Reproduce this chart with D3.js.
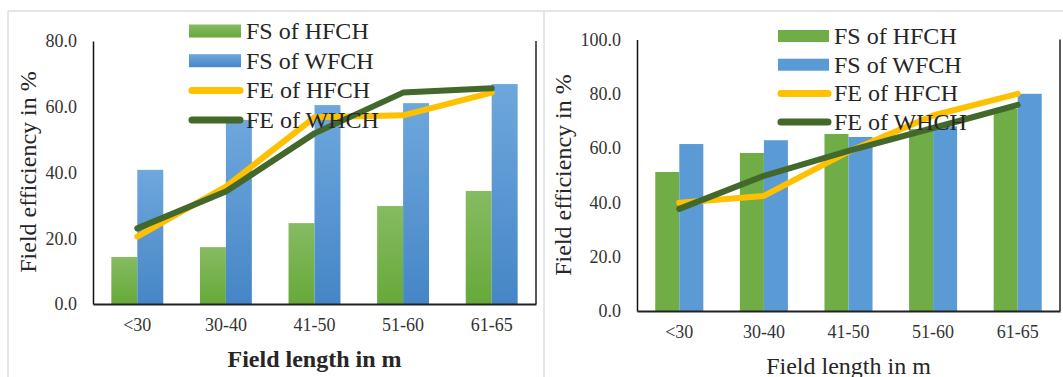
<!DOCTYPE html>
<html>
<head>
<meta charset="utf-8">
<script src="https://cdn.jsdelivr.net/npm/d3@7"></script>
<style>
  html, body { margin: 0; padding: 0; background: #fff; }
  svg { display: block; font-family: "Liberation Serif", "Times New Roman", serif; }
</style>
</head>
<body>
<svg id="chart" width="1063" height="377"></svg>
<script>
// Field length classes
const categories = ["<30", "30-40", "41-50", "51-60", "61-65"];

// Left chart: field speed (FS) and field efficiency (FE), %
const leftFsHFCH = [14.3, 17.3, 24.6, 29.8, 34.4];
const leftFsWFCH = [40.8, 56.0, 60.5, 61.1, 66.9];
const leftFeHFCH = [20.5, 35.7, 56.8, 57.4, 64.3];
const leftFeWHCH = [23.0, 34.2, 51.9, 64.3, 65.6];
const leftTicks = [0, 20, 40, 60, 80];

// Right chart
const rightFsHFCH = [51.2, 58.2, 65.2, 67.0, 74.5];
const rightFsWFCH = [61.5, 62.9, 64.1, 68.0, 80.0];
const rightFeHFCH = [39.9, 42.4, 58.7, 72.0, 80.0];
const rightFeWHCH = [37.6, 49.8, 59.0, 67.4, 75.9];
const rightTicks = [0, 20, 40, 60, 80, 100];

const legendLabels = ["FS of HFCH", "FS of WFCH", "FE of HFCH", "FE of WHCH"];

const svg = d3.select("#chart");
const defs = svg.append("defs");

function vGrad(id, top, bottom) {
  const g = defs.append("linearGradient").attr("id", id)
    .attr("x1", 0).attr("y1", 0).attr("x2", 0).attr("y2", 1);
  g.append("stop").attr("offset", "0%").attr("stop-color", top);
  g.append("stop").attr("offset", "100%").attr("stop-color", bottom);
}
vGrad("gGreen", "#86bb62", "#66a939");
vGrad("gBlue", "#6ea7dd", "#4686c6");

// panel frames
svg.append("line").attr("x1", 8).attr("x2", 1063).attr("y1", 11).attr("y2", 11)
  .attr("stroke", "#e3e6ea").attr("stroke-width", 2);
svg.append("line").attr("x1", 8).attr("x2", 8).attr("y1", 11).attr("y2", 377)
  .attr("stroke", "#e3e6ea").attr("stroke-width", 2);
svg.append("line").attr("x1", 544).attr("x2", 544).attr("y1", 11).attr("y2", 377)
  .attr("stroke", "#e3e6ea").attr("stroke-width", 2);

function drawPanel(cfg) {
  const g = svg.append("g");
  const y = d3.scaleLinear().domain(cfg.domain).range([cfg.bottom, cfg.top]);
  const x = d3.scaleBand().domain(categories).range([cfg.left, cfg.right]);
  const barW = x.step() * cfg.barFrac;
  const cx = c => x(c) + x.bandwidth() / 2;

  // bars
  const barSeries = [
    { vals: cfg.fsH, fill: cfg.greenFill, off: -barW },
    { vals: cfg.fsW, fill: cfg.blueFill, off: 0 }
  ];
  barSeries.forEach(s => {
    g.append("g").selectAll("rect").data(categories).join("rect")
      .attr("x", (c) => cx(c) + s.off)
      .attr("width", barW)
      .attr("y", (c, i) => y(s.vals[i]))
      .attr("height", (c, i) => y(0) - y(s.vals[i]))
      .attr("fill", s.fill);
  });

  // lines
  const line = d3.line().x((d, i) => cx(categories[i])).y(d => y(d));
  [[cfg.feH, "#ffc000"], [cfg.feW, "#43682b"]].forEach(([vals, col]) => {
    g.append("path").datum(vals).attr("d", line)
      .attr("fill", "none").attr("stroke", col).attr("stroke-width", 6)
      .attr("stroke-linejoin", "round").attr("stroke-linecap", "round");
  });

  // axes
  const yAxis = d3.axisLeft(y).tickValues(cfg.ticks).tickSize(0).tickPadding(16)
    .tickFormat(d3.format(".1f"));
  const ya = g.append("g").attr("transform", `translate(${cfg.left},0)`).call(yAxis);
  ya.select(".domain").attr("stroke", "#111").attr("stroke-width", 1.5);
  ya.selectAll("text").attr("font-size", 18).attr("fill", "#333")
    .attr("font-family", "Liberation Serif");

  const xAxis = d3.axisBottom(x).tickSize(0).tickPadding(14);
  const xa = g.append("g").attr("transform", `translate(0,${cfg.bottom})`).call(xAxis);
  xa.select(".domain").attr("stroke", "#222").attr("stroke-width", 2);
  xa.selectAll("text").attr("font-size", 18).attr("fill", "#333")
    .attr("font-family", "Liberation Serif");

  // plot right border
  g.append("line").attr("x1", cfg.right).attr("x2", cfg.right)
    .attr("y1", cfg.top).attr("y2", cfg.bottom)
    .attr("stroke", "#222").attr("stroke-width", 1.5);

  // titles
  g.append("text")
    .attr("transform", `translate(${cfg.yTitleX},${cfg.yTitleY}) rotate(-90)`)
    .attr("text-anchor", "middle").attr("dominant-baseline", "central")
    .attr("font-size", 24).attr("fill", "#262626")
    .text("Field efficiency in %");
  g.append("text")
    .attr("x", (cfg.left + cfg.right) / 2).attr("y", cfg.xTitleY)
    .attr("text-anchor", "middle").attr("font-size", 24)
    .attr("font-weight", cfg.xTitleBold ? "bold" : "normal").attr("fill", "#262626")
    .text("Field length in m");

  // legend
  const lg = g.append("g");
  legendLabels.forEach((lab, i) => {
    const cyy = cfg.legY + i * cfg.legStep;
    if (i < 2) {
      lg.append("rect").attr("x", cfg.legX).attr("y", cyy - cfg.swH / 2)
        .attr("width", cfg.legW).attr("height", cfg.swH)
        .attr("fill", i === 0 ? cfg.greenFill : cfg.blueFill);
    } else {
      lg.append("line").attr("x1", cfg.legX + 3).attr("x2", cfg.legX + cfg.legW - 1)
        .attr("y1", cyy).attr("y2", cyy)
        .attr("stroke", i === 2 ? "#ffc000" : "#43682b")
        .attr("stroke-width", 7).attr("stroke-linecap", "round");
    }
    lg.append("text").attr("x", cfg.legX + cfg.legW + 5).attr("y", cyy + 8)
      .attr("font-size", 24).attr("fill", "#262626").text(lab);
  });
}

drawPanel({
  domain: [0, 80], ticks: leftTicks,
  left: 93, right: 536, top: 41, bottom: 304, barFrac: 0.293,
  fsH: leftFsHFCH, fsW: leftFsWFCH, feH: leftFeHFCH, feW: leftFeWHCH,
  greenFill: "url(#gGreen)", blueFill: "url(#gBlue)",
  yTitleX: 28, yTitleY: 172, xTitleY: 367, xTitleBold: true,
  legX: 189, legW: 52, legY: 31, legStep: 29.7, swH: 13
});

drawPanel({
  domain: [0, 100], ticks: rightTicks,
  left: 637, right: 1060, top: 39.5, bottom: 311, barFrac: 0.284,
  fsH: rightFsHFCH, fsW: rightFsWFCH, feH: rightFeHFCH, feW: rightFeWHCH,
  greenFill: "#70ad47", blueFill: "#5b9bd5",
  yTitleX: 563, yTitleY: 175, xTitleY: 374, xTitleBold: false,
  legX: 778, legW: 51, legY: 36, legStep: 28.7, swH: 12
});
</script>
</body>
</html>
